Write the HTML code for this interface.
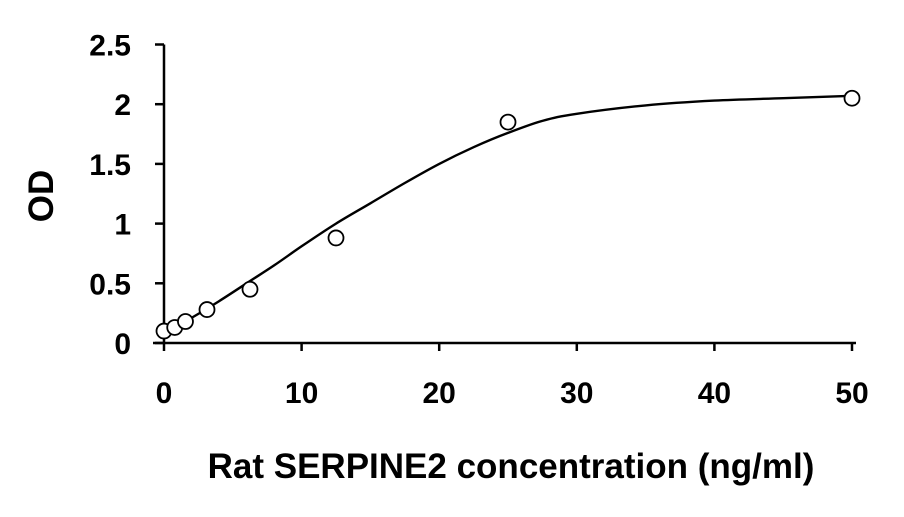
<!DOCTYPE html>
<html><head><meta charset="utf-8"><style>
body{margin:0;background:#fff;width:904px;height:512px;overflow:hidden}
svg text{font-family:"Liberation Sans",Arial,sans-serif;font-weight:bold;fill:#000}
</style></head><body>
<svg id="c" width="904" height="512"></svg>
<script>
const concentrations=[0,0.78,1.56,3.125,6.25,12.5,25,50];
const odValues=[0.1,0.13,0.18,0.28,0.45,0.88,1.85,2.05];
const curveX=[0,2,4,6,8,10,12.5,15,17.5,20,22.5,25,27.5,30,35,40,45,50];
const curveY=[0.08,0.21,0.35,0.5,0.65,0.81,1.0,1.17,1.34,1.5,1.64,1.76,1.86,1.92,1.99,2.03,2.05,2.07];
const xTicks=[0,10,20,30,40,50];
const yTicks=[0,0.5,1,1.5,2,2.5];
const yTickLabels=["0","0.5","1","1.5","2","2.5"];
const X=v=>164+v*13.76, Y=v=>343-v*119.4;
const svg=document.getElementById('c'),NS='http://www.w3.org/2000/svg';
function mk(t,a,txt){const e=document.createElementNS(NS,t);for(const k in a)e.setAttribute(k,a[k]);if(txt!==undefined)e.textContent=txt;svg.appendChild(e);return e;}
let e;
e=mk('line',{x1:153,y1:343,x2:X(50)+4,y2:343,stroke:'#000','stroke-width':2.5});


e=mk('line',{x1:164,y1:Y(2.5),x2:164,y2:344,stroke:'#000','stroke-width':2.5});


xTicks.forEach(v=>{
 e=mk('line',{x1:X(v),y1:343,x2:X(v),y2:351,stroke:'#000','stroke-width':2.5});
 
 
 e=mk('text',{x:X(v),y:403,'text-anchor':'middle','font-size':30},String(v));
 
 
});
yTicks.forEach((v,i)=>{
 e=mk('line',{x1:155,y1:Y(v),x2:164,y2:Y(v),stroke:'#000','stroke-width':2.5});
 
 
 e=mk('text',{x:131,y:Y(v)+11,'text-anchor':'end','font-size':30},yTickLabels[i]);
 
 
});
const pts=curveX.map((v,i)=>[X(v),Y(curveY[i])]);
let d='M'+pts[0][0]+','+pts[0][1];
for(let i=0;i<pts.length-1;i++){
 const p0=pts[i-1]||pts[i],p1=pts[i],p2=pts[i+1],p3=pts[i+2]||p2;
 d+='C'+(p1[0]+(p2[0]-p0[0])/6).toFixed(1)+','+(p1[1]+(p2[1]-p0[1])/6).toFixed(1)+' '+(p2[0]-(p3[0]-p1[0])/6).toFixed(1)+','+(p2[1]-(p3[1]-p1[1])/6).toFixed(1)+' '+p2[0].toFixed(1)+','+p2[1].toFixed(1);
}
e=mk('path',{d:d,fill:'none',stroke:'#000','stroke-width':2.4,'stroke-linejoin':'round'});


concentrations.forEach((v,i)=>{
 e=mk('circle',{cx:X(v),cy:Y(odValues[i]),r:7.5,fill:'#fff',stroke:'#000','stroke-width':1.8});
 
 
});
e=mk('text',{x:511,y:478,'text-anchor':'middle','font-size':35},'Rat SERPINE2 concentration (ng/ml)');


e=mk('text',{x:0,y:0,'text-anchor':'middle','font-size':35,transform:'translate(53,196) rotate(-90)'},'OD');


</script>
</body></html>
